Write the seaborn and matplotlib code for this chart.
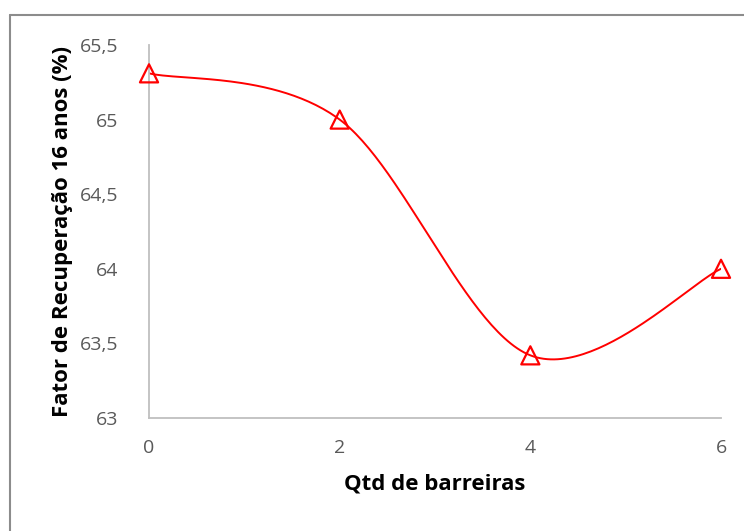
import numpy as np
import pandas as pd
import matplotlib
matplotlib.use("Agg")
import matplotlib.pyplot as plt
import seaborn as sns
from matplotlib.lines import Line2D

barreiras = [0, 2, 4, 6]
fator_recuperacao = [65.31, 65.00, 63.42, 64.00]
y_ticks = [63, 63.5, 64, 64.5, 65, 65.5]
y_tick_labels = ["63", "63,5", "64", "64,5", "65", "65,5"]
x_ticks = [0, 2, 4, 6]


def smooth_curve(xs, ys, n=60):
    """Cubic Bezier smoothing through every point (Catmull-Rom style)."""
    pts = np.column_stack([xs, ys]).astype(float)
    out = []
    for i in range(len(pts) - 1):
        p0 = pts[i - 1] if i > 0 else pts[i]
        p1 = pts[i]
        p2 = pts[i + 1]
        p3 = pts[i + 2] if i + 2 < len(pts) else pts[i + 1]
        c1 = p1 + (p2 - p0) / 6.0
        c2 = p2 - (p3 - p1) / 6.0
        t = np.linspace(0, 1, n)[:, None]
        seg = ((1 - t) ** 3) * p1 + 3 * ((1 - t) ** 2) * t * c1 + 3 * (1 - t) * t ** 2 * c2 + t ** 3 * p2
        out.append(seg if i == 0 else seg[1:])
    return np.vstack(out)


sns.set_theme(style="white")
plt.rcParams["font.family"] = ["Open Sans", "DejaVu Sans"]

fig = plt.figure(figsize=(7.44, 5.31), dpi=100)
ax = fig.add_axes([0.2003, 0.2128, 0.7688, 0.7025])

curve = smooth_curve(barreiras, fator_recuperacao)
curve_df = pd.DataFrame({"x": curve[:, 0], "y": curve[:, 1]})
sns.lineplot(data=curve_df, x="x", y="y", ax=ax, color="#FF0000", linewidth=1.4,
             sort=False, estimator=None)

points_df = pd.DataFrame({"Qtd de barreiras": barreiras, "Fator": fator_recuperacao})
sns.scatterplot(data=points_df, x="Qtd de barreiras", y="Fator", ax=ax, marker="^",
                s=170, facecolor="none", edgecolor="#FF0000", linewidth=1.6, zorder=5,
                clip_on=False)

ax.set_xlim(0, 6)
ax.set_ylim(63, 65.5)
ax.set_xticks(x_ticks)
ax.set_xticklabels([str(v) for v in x_ticks])
ax.set_yticks(y_ticks)
ax.set_yticklabels(y_tick_labels)
ax.tick_params(axis="both", length=0, labelsize=14, colors="#595959")
ax.tick_params(axis="y", pad=22)
ax.tick_params(axis="x", pad=15)

for side in ["top", "right"]:
    ax.spines[side].set_visible(False)
for side in ["left", "bottom"]:
    ax.spines[side].set_color("#BFBFBF")
    ax.spines[side].set_linewidth(1.3)

ax.set_xlabel("Qtd de barreiras", fontsize=16, fontweight="bold", color="black", labelpad=12)
ax.set_ylabel("Fator de Recuperação 16 anos (%)", fontsize=16, fontweight="bold",
              color="black", labelpad=5)

# chart-area frame along the top and left edges
fig.add_artist(Line2D([10 / 744, 1.0], [1 - 15 / 531, 1 - 15 / 531], transform=fig.transFigure,
                      color="#8C8C8C", linewidth=1.5))
fig.add_artist(Line2D([10 / 744, 10 / 744], [0.0, 1 - 15 / 531], transform=fig.transFigure,
                      color="#8C8C8C", linewidth=1.5))

fig.savefig("out.png", dpi=100)
